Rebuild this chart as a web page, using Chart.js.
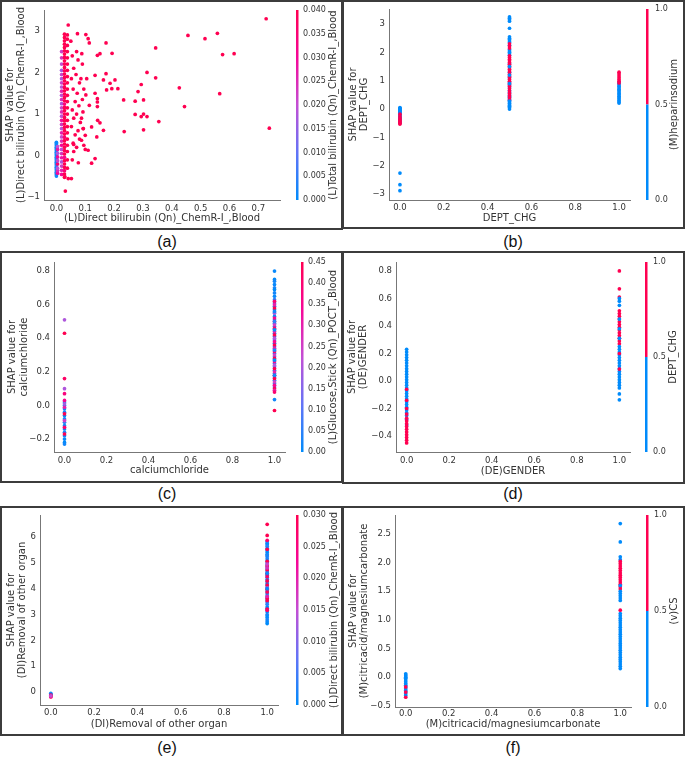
<!DOCTYPE html>
<html><head><meta charset="utf-8">
<script src="https://cdn.jsdelivr.net/npm/chart.js@4"></script>
<style>
body{margin:0;width:685px;height:757px;background:#fff;position:relative;overflow:hidden;}
.box{position:absolute;border:2px solid #3c3c3c;box-sizing:border-box;}
canvas{position:absolute;}
.lbl{position:absolute;font:16px 'Liberation Sans',Arial,sans-serif;color:#111;transform:translate(-50%,-50%);white-space:nowrap;}
</style></head>
<body>
<div class="box" style="left:0;top:0;width:343px;height:230px"></div>
<div class="box" style="left:342px;top:0;width:343px;height:229px"></div>
<div class="box" style="left:0;top:251px;width:343px;height:232px"></div>
<div class="box" style="left:342px;top:251px;width:343px;height:233px"></div>
<div class="box" style="left:0;top:506px;width:343px;height:230px"></div>
<div class="box" style="left:342px;top:506px;width:343px;height:230px"></div>
<canvas id="ca"></canvas><canvas id="cb"></canvas><canvas id="cc"></canvas>
<canvas id="cd"></canvas><canvas id="ce"></canvas><canvas id="cf"></canvas>
<div class="lbl" style="left:167px;top:242px">(a)</div>
<div class="lbl" style="left:513px;top:242px">(b)</div>
<div class="lbl" style="left:167px;top:494px">(c)</div>
<div class="lbl" style="left:513px;top:494px">(d)</div>
<div class="lbl" style="left:167px;top:748px">(e)</div>
<div class="lbl" style="left:513px;top:748px">(f)</div>
<script>
// ---------------- DATA ----------------
// (a) dense columns near x = 0
const aColX = [0.0, 0.004, 0.018, 0.028, 0.038];
const aColY = [
  [-0.49,-0.46,-0.43,-0.40,-0.37,-0.34,-0.31,-0.28,-0.25,-0.22,-0.19,-0.16,-0.13,-0.10,-0.07,-0.04,-0.01,0.02,0.05,0.08,0.11,0.14,0.17,0.20,0.23,0.26,0.29,0.32],
  [-0.42,-0.36,-0.30,-0.20,-0.12,-0.03,0.06,0.15,0.22],
  [-0.45,-0.35,-0.25,-0.15,-0.05,0.05,0.15,0.25,0.35,0.45,0.55,0.65,0.75,0.85,0.95,1.05,1.15,1.25,1.35,1.45,1.55,1.65,1.75,1.85,1.95,2.05,2.20,2.35,2.50],
  [-0.52,-0.44,-0.36,-0.28,-0.20,-0.12,-0.04,0.04,0.12,0.20,0.28,0.36,0.44,0.52,0.60,0.68,0.76,0.84,0.92,1.00,1.08,1.16,1.24,1.32,1.40,1.48,1.56,1.64,1.72,1.80,1.88,1.96,2.04,2.12,2.20,2.28,2.36,2.44,2.52,2.60,2.68,2.76,2.84,2.92],
  [-0.30,-0.10,0.10,0.25,0.40,0.55,0.70,0.85,1.00,1.15,1.30,1.45,1.60,1.75,1.90,2.05,2.20,2.35,2.50,2.65,2.80,2.90]
];
const aColC = [
  [0.001,0.003,0,0.002,0.004,0.001,0.003,0,0.002,0.005,0.001,0.003,0,0.002,0.004,0.001,0.003,0,0.002,0.001,0.003,0,0.002,0.001,0.003,0,0.002,0.001],
  [0.03,0.025,0.02,0.035,0.022,0.03,0.018,0.028,0.02],
  [0.03,0.026,0.022,0.018,0.028,0.024,0.02,0.03,0.025,0.021,0.027,0.019,0.023,0.029,0.02,0.025,0.022,0.018,0.024,0.02,0.026,0.019,0.022,0.018,0.021,0.017,0.02,0.024,0.022],
  [0.04,0.04,0.035,0.04,0.04,0.04,0.032,0.04,0.04,0.04,0.04,0.04,0.036,0.04,0.04,0.04,0.04,0.04,0.04,0.04,0.04,0.04,0.034,0.04,0.04,0.04,0.04,0.04,0.04,0.04,0.04,0.04,0.04,0.04,0.04,0.04,0.04,0.04,0.04,0.04,0.04,0.04,0.04,0.04],
  [0.04,0.04,0.04,0.04,0.04,0.04,0.04,0.04,0.04,0.04,0.04,0.04,0.04,0.04,0.04,0.04,0.04,0.04,0.04,0.04,0.04,0.04]
];
// (a) scattered points [x, y, colour value]
const aScatter = [
  [0.041,3.14,0.04],[0.031,-0.85,0.04],[0.029,-0.50,0.04],[0.041,-0.55,0.04],[0.052,-0.55,0.04],
  [0.050,2.75,0.04],[0.055,2.40,0.04],[0.060,2.10,0.04],[0.052,1.85,0.04],[0.058,1.60,0.04],
  [0.065,1.30,0.04],[0.055,1.10,0.04],[0.060,0.90,0.04],[0.052,0.70,0.04],[0.065,0.50,0.04],
  [0.058,0.30,0.04],[0.060,0.10,0.04],[0.055,-0.10,0.04],[0.070,2.50,0.04],[0.075,2.30,0.04],
  [0.073,2.93,0.04],[0.068,1.95,0.04],[0.080,1.75,0.04],[0.072,1.50,0.04],[0.078,1.20,0.04],
  [0.070,1.00,0.04],[0.083,0.80,0.04],[0.075,0.60,0.04],[0.080,0.40,0.04],[0.070,0.20,0.04],
  [0.076,-0.17,0.04],[0.088,2.45,0.04],[0.090,2.20,0.04],[0.085,1.85,0.04],[0.095,1.60,0.04],
  [0.090,1.35,0.04],[0.092,1.05,0.04],[0.087,0.90,0.04],[0.093,0.65,0.04],[0.100,0.49,0.04],
  [0.087,0.37,0.04],[0.060,0.27,0.04],[0.095,0.25,0.04],[0.102,2.91,0.04],[0.110,2.81,0.04],
  [0.114,2.71,0.04],[0.102,1.46,0.04],[0.114,1.21,0.04],[0.105,1.85,0.04],[0.100,0.15,0.04],
  [0.727,3.29,0.04],[0.558,2.94,0.04],[0.515,2.81,0.04],[0.456,2.89,0.04],[0.344,2.59,0.04],
  [0.576,2.43,0.04],[0.616,2.45,0.04],[0.193,2.46,0.04],[0.151,2.45,0.04],[0.142,2.41,0.04],
  [0.172,2.71,0.04],[0.314,2.00,0.04],[0.344,1.87,0.04],[0.172,1.97,0.04],[0.203,1.82,0.04],
  [0.163,1.82,0.04],[0.134,1.93,0.04],[0.186,1.74,0.04],[0.192,1.61,0.04],[0.213,1.61,0.04],
  [0.174,1.58,0.04],[0.294,1.71,0.04],[0.283,1.54,0.04],[0.426,1.63,0.04],[0.566,1.49,0.04],
  [0.233,1.34,0.04],[0.273,1.31,0.04],[0.302,1.34,0.04],[0.444,1.18,0.04],[0.142,1.37,0.04],
  [0.142,1.29,0.04],[0.142,1.18,0.04],[0.134,1.50,0.04],[0.273,0.99,0.04],[0.302,1.00,0.04],
  [0.294,0.94,0.04],[0.314,0.94,0.04],[0.143,0.85,0.04],[0.151,0.79,0.04],[0.163,0.61,0.04],
  [0.122,0.69,0.04],[0.355,0.82,0.04],[0.302,0.62,0.04],[0.235,0.58,0.04],[0.738,0.66,0.04],
  [0.140,0.45,0.04],[0.110,0.13,0.04],[0.122,-0.18,0.04],[0.134,-0.07,0.04],[0.093,0.65,0.04]
];
const aXTicks = [0,0.1,0.2,0.3,0.4,0.5,0.6,0.7];
const aYTicks = [-1,0,1,2,3];
const aCTicks = [0,0.005,0.01,0.015,0.02,0.025,0.03,0.035,0.04];

// (b)
const bColX = [0.0, 0.5, 1.0];
const bColY = [
  [0.05,0.03,0.01,-0.02,-0.04,-0.07,-0.10,-0.12,-0.15,-0.18,-0.21,-0.24,-0.27,-0.30,-0.33,-0.36,-0.39,-0.42,-0.45,-0.49,-0.18,-0.27,-0.33,-0.38,-0.42,-0.46,-0.50,-0.53,-2.26,-2.67,-2.88],
  [3.25,3.20,3.15,3.10,2.85,2.55,2.50,2.45,2.40,2.35,2.25,2.10,2.05,2.00,1.95,1.90,1.60,1.30,1.10,0.95,0.85,0.75,0.65,0.58,0.50,0.45,0.40,0.35,0.30,0.25,0.20,0.15,0.10,0.05,0.00,
   2.30,2.22,2.15,1.88,1.82,1.76,1.70,1.64,1.58,1.52,1.46,1.40,1.34,1.28,1.22,1.16,1.10,1.04,0.98,0.92,0.86,0.80,0.72,0.64,0.56,0.48,0.40,0.32,1.50,1.20,0.90,0.28,0.12],
  [0.95,0.90,0.85,0.80,0.75,0.70,0.65,0.60,0.55,0.50,0.45,0.40,0.35,0.30,0.25,0.21,1.30,1.24,1.17,1.10,1.04,0.98,0.92]
];
const bColC = [
  [0,0,0,0,0,0,0,0,0,0,0,0,0,0,0,0,0,0,0,0,1,1,1,1,1,1,1,1,0,0,0],
  [0,0,0,0,0,0,0,0,0,0,0,0,0,0,0,0,0,0,0,0,0,0,0,0,0,0,0,0,0,0,0,0,0,0,0,
   1,1,1,1,1,1,1,1,1,1,1,1,1,1,1,1,1,1,1,1,1,1,1,1,1,1,1,1,0,0,0,0,0],
  [0,0,0,0,0,0,0,0,0,0,0,0,0,0,0,0,1,1,1,1,1,1,1]
];
const bXTicks = [0,0.2,0.4,0.6,0.8,1.0];
const bYTicks = [-3,-2,-1,0,1,2,3];
const bCTicks = [0,0.5,1];

// (c)
const cColX = [0.0, 1.0];
const cColY = [
  [0.02,0.00,-0.02,-0.04,-0.06,-0.08,-0.10,-0.12,-0.14,-0.16,-0.18,-0.20,-0.22,-0.23,0.51,0.43,0.16,0.10,0.07,0.03,-0.01,-0.05,-0.09,-0.13,-0.17,0.01],
  [0.80,0.75,0.74,0.72,0.70,0.69,0.67,0.65,0.63,0.61,0.59,0.57,0.55,0.53,0.51,0.49,0.47,0.45,0.43,0.41,0.39,0.37,0.35,0.33,0.31,0.29,0.27,0.25,0.23,0.21,0.19,0.17,0.15,0.13,0.11,0.035,
   0.62,0.60,0.58,0.55,0.52,0.50,0.48,0.46,0.44,0.42,0.40,0.38,0.36,0.34,0.32,0.30,0.28,0.26,0.24,0.22,0.20,0.18,0.16,0.14,0.12,0.10,0.09,0.08,-0.03,
   0.56,0.45,0.33,0.27,0.18,0.50]
];
const cColC = [
  [0.00,0.02,0.01,0.03,0.00,0.02,0.04,0.01,0.00,0.03,0.02,0.01,0.00,0.02,0.20,0.45,0.42,0.20,0.38,0.35,0.30,0.45,0.25,0.40,0.45,0.18],
  [0.01,0.00,0.02,0.01,0.03,0.00,0.02,0.01,0.04,0.00,0.02,0.01,0.03,0.00,0.02,0.05,0.01,0.00,0.02,0.03,0.01,0.00,0.04,0.02,0.01,0.00,0.03,0.02,0.01,0.00,0.02,0.04,0.01,0.00,0.03,0.02,
   0.40,0.30,0.45,0.20,0.35,0.45,0.25,0.40,0.30,0.45,0.20,0.35,0.45,0.30,0.40,0.25,0.45,0.35,0.20,0.45,0.30,0.40,0.45,0.25,0.35,0.45,0.30,0.40,0.45,
   0.02,0.01,0.03,0.00,0.02,0.05]
];
const cXTicks = [0,0.2,0.4,0.6,0.8,1.0];
const cYTicks = [-0.2,0,0.2,0.4,0.6,0.8];
const cCTicks = [0,0.05,0.1,0.15,0.2,0.25,0.3,0.35,0.4,0.45];

// (d)
const dColX = [0.0, 1.0];
const dColY = [
  [0.23,0.21,0.19,0.17,0.15,0.13,0.11,0.09,0.07,0.05,0.03,0.01,-0.01,-0.03,-0.05,-0.07,-0.09,-0.11,-0.13,-0.15,-0.17,-0.19,-0.21,-0.23,-0.25,-0.28,-0.32,
   -0.06,-0.14,-0.20,-0.24,-0.27,-0.29,-0.31,-0.33,-0.35,-0.37,-0.39,-0.41,-0.43,-0.45],
  [0.80,0.67,0.61,0.51,0.49,0.47,0.45,0.43,0.41,0.39,0.37,0.35,0.33,0.31,0.29,0.27,
   0.60,0.58,0.55,0.45,0.38,0.31,0.25,0.23,0.21,0.19,0.17,0.15,0.13,0.11,0.09,0.07,0.05,0.03,0.01,-0.01,-0.03,-0.05,-0.094,-0.137,
   0.20,0.087]
];
const dColC = [
  [0,0,0,0,0,0,0,0,0,0,0,0,0,0,0,0,0,0,0,0,0,0,0,0,0,0,0,
   1,1,1,1,1,1,1,1,1,1,1,1,1,1],
  [1,1,1,1,1,1,1,1,1,1,1,1,1,1,1,1,
   0,0,0,0,0,0,0,0,0,0,0,0,0,0,0,0,0,0,0,0,0,0,0,0,
   1,1]
];
const dXTicks = [0,0.2,0.4,0.6,0.8,1.0];
const dYTicks = [-0.4,-0.2,0,0.2,0.4,0.6,0.8];
const dCTicks = [0,0.5,1];

// (e)
const eColX = [0.0, 1.0];
const eColY = [
  [-0.05,-0.08,-0.11,-0.14,-0.12,-0.17,-0.19,-0.15],
  [5.82,5.76,5.70,5.64,5.56,5.48,5.40,5.32,5.24,5.16,5.08,5.00,4.92,4.84,4.76,4.68,4.60,4.52,4.44,4.36,4.28,4.20,4.12,4.04,3.96,3.88,3.80,3.72,3.64,3.56,3.48,3.30,3.24,3.18,3.10,3.00,2.95,2.88,2.80,2.72,2.65,
   6.49,6.06,5.87,5.52,5.06,4.88,4.72,4.57,4.46,4.30,4.14,3.98,3.87,3.62,3.53,3.21,3.16,
   4.80,4.02,3.70,4.95,
   5.30,4.60,4.00,3.40]
];
const eColC = [
  [0.001,0.002,0.000,0.001,0.030,0.030,0.028,0.015],
  [0.001,0.002,0.000,0.003,0.001,0.002,0.000,0.001,0.003,0.002,0.000,0.001,0.002,0.004,0.000,0.001,0.002,0.000,0.003,0.001,0.002,0.000,0.001,0.002,0.000,0.003,0.001,0.002,0.000,0.001,0.002,0.000,0.001,0.003,0.000,0.002,0.001,0.000,0.002,0.001,0.000,
   0.030,0.030,0.027,0.030,0.030,0.029,0.030,0.030,0.028,0.030,0.030,0.030,0.029,0.030,0.030,0.030,0.028,
   0.018,0.015,0.020,0.016,
   0.002,0.001,0.000,0.003]
];
const eXTicks = [0,0.2,0.4,0.6,0.8,1.0];
const eYTicks = [0,1,2,3,4,5,6];
const eCTicks = [0,0.005,0.01,0.015,0.02,0.025,0.03];

// (f)
const fColX = [0.0, 1.0];
const fColY = [
  [0.06,0.04,0.02,0.00,-0.02,-0.05,-0.08,-0.11,-0.14,-0.17,-0.20,-0.23,-0.26,-0.29,-0.32,-0.17,-0.26,-0.35],
  [1.11,1.07,1.03,0.99,0.95,0.91,0.87,0.83,0.79,0.75,0.71,0.67,0.63,0.59,0.55,0.51,0.47,0.43,0.39,0.35,0.31,0.27,0.23,0.19,0.15,
   2.68,2.36,2.10,2.05,
   2.02,1.98,1.94,1.90,1.86,1.82,1.78,1.74,1.70,1.66,1.62,1.58,1.54,1.17,
   1.60,1.50,1.46,1.42,1.38,1.34]
];
const fColC = [
  [0,0,0,0,0,0,0,0,0,0,0,0,0,0,0,1,1,1],
  [0,0,0,0,0,0,0,0,0,0,0,0,0,0,0,0,0,0,0,0,0,0,0,0,0,
   0,0,0,0,
   1,1,1,1,1,1,1,1,1,1,1,1,1,1,
   0,0,0,0,0,0]
];
const fXTicks = [0,0.2,0.4,0.6,0.8,1.0];
const fYTicks = [-0.5,0,0.5,1,1.5,2,2.5];
const fCTicks = [0,0.5,1];

// ---------------- RENDERING ----------------
Chart.defaults.font.family = "'DejaVu Sans', sans-serif";
const BLUE = 'rgb(0,139,251)', RED = 'rgb(255,0,81)';
const STOPS = [[0,[0,139,251]],[0.25,[99,116,247]],[0.5,[195,79,212]],[0.75,[246,7,152]],[1,[255,0,81]]];
function cmap(t){
  t = Math.max(0, Math.min(1, t));
  for (let i = 1; i < STOPS.length; i++) {
    if (t <= STOPS[i][0]) {
      const [t0,c0] = STOPS[i-1], [t1,c1] = STOPS[i];
      const f = (t - t0) / (t1 - t0);
      const c = c0.map((v,k)=>Math.round(v + (c1[k]-v)*f));
      return `rgb(${c[0]},${c[1]},${c[2]})`;
    }
  }
  return RED;
}
function fmt(v, d){ const s = Number(v).toFixed(d); return s.replace('-', '\u2212'); }

function build(p){
  const cv = document.getElementById(p.id);
  cv.style.left = p.box.x + 'px'; cv.style.top = p.box.y + 'px';
  cv.width = p.box.w; cv.height = p.box.h;
  const A = p.area;
  const padTop = A.t - p.box.y;
  const yW = A.l - p.box.x;
  const xH = p.box.y + p.box.h - A.b;
  const y2W = p.box.x + p.box.w - A.r;
  const TF = {size: 10, lineHeight: 1.15};
  const KF = {size: 8.5, lineHeight: 1.2};
  const CF = {size: 8, lineHeight: 1.2};
  const TXT = '#333', SPINE = '#777';
  const pts = [], cols = [];
  const colour = v => p.binary ? (v >= 0.5 ? RED : BLUE) : cmap((v - p.cRange[0]) / (p.cRange[1] - p.cRange[0]));
  p.colX.forEach((xv, i) => {
    p.colY[i].forEach((yv, j) => { pts.push({x: xv, y: yv}); cols.push(colour(p.colC[i][j])); });
  });
  (p.scatter || []).forEach(s => { pts.push({x: s[0], y: s[1]}); cols.push(colour(s[2])); });
  const cb = {
    id: 'cbar_' + p.id,
    afterDraw(chart){
      const ctx = chart.ctx, ca = chart.chartArea;
      const x0 = p.cbX - p.box.x, top = ca.top, bot = ca.bottom, w = 2.5;
      if (p.binary) {
        ctx.fillStyle = RED; ctx.fillRect(x0, top, w, (bot - top) / 2);
        ctx.fillStyle = BLUE; ctx.fillRect(x0, (top + bot) / 2, w, (bot - top) / 2);
      } else {
        const g = ctx.createLinearGradient(0, bot, 0, top);
        STOPS.forEach(s => g.addColorStop(s[0], `rgb(${s[1][0]},${s[1][1]},${s[1][2]})`));
        ctx.fillStyle = g; ctx.fillRect(x0, top, w, bot - top);
      }
      ctx.save();
      ctx.translate(p.cbTitleX - p.box.x, (top + bot) / 2);
      ctx.rotate(-Math.PI / 2);
      ctx.font = "10px 'DejaVu Sans', sans-serif";
      ctx.fillStyle = TXT; ctx.textAlign = 'center'; ctx.textBaseline = 'middle';
      ctx.fillText(p.cLabel, 0, 0);
      ctx.restore();
    }
  };
  new Chart(cv, {
    type: 'scatter',
    data: {datasets: [{data: pts, backgroundColor: cols, pointRadius: 1.85, pointBorderWidth: 0, pointHoverRadius: 1.85}]},
    options: {
      responsive: false, animation: false, devicePixelRatio: 1, events: [],
      layout: {padding: {top: padTop, left: 0, right: 0, bottom: 0}},
      plugins: {legend: {display: false}, tooltip: {enabled: false}},
      scales: {
        x: {
          type: 'linear', position: 'bottom', min: p.xRange[0], max: p.xRange[1],
          grid: {display: false, drawTicks: false}, border: {display: true, color: SPINE, width: 1},
          afterBuildTicks: s => { s.ticks = p.xTicks.map(v => ({value: v})); },
          ticks: {font: KF, color: TXT, padding: p.xTickPad, maxRotation: 0, autoSkip: false, callback: v => fmt(v, p.xDec)},
          title: {display: true, text: p.xLabel, font: TF, color: TXT, padding: {top: 0, bottom: p.xTitlePad}},
          afterFit: s => { s.height = xH; s.paddingLeft = 0; s.paddingRight = 0; }
        },
        y: {
          type: 'linear', position: 'left', min: p.yRange[0], max: p.yRange[1],
          grid: {display: false, drawTicks: false}, border: {display: true, color: SPINE, width: 1},
          afterBuildTicks: s => { s.ticks = p.yTicks.map(v => ({value: v})); },
          ticks: {font: KF, color: TXT, padding: 4, autoSkip: false, callback: v => fmt(v, p.yDec)},
          title: {display: true, text: p.yLabel, font: TF, color: TXT, padding: {top: p.yTitlePad, bottom: 0}},
          afterFit: s => { s.width = yW; s.paddingTop = 0; s.paddingBottom = 0; }
        },
        y2: {
          type: 'linear', position: 'right', min: p.cRange[0], max: p.cRange[1],
          grid: {display: false, drawTicks: false}, border: {display: false},
          afterBuildTicks: s => { s.ticks = p.cTicks.map(v => ({value: v})); },
          ticks: {font: CF, color: TXT, padding: p.cbLabelX - A.r, autoSkip: false, callback: v => fmt(v, p.cDec)},
          afterFit: s => { s.width = y2W; s.paddingTop = 0; s.paddingBottom = 0; }
        }
      }
    },
    plugins: [cb]
  });
}

const LT = 0, RT = 343;
build({id:'ca', box:{x:LT,y:0,w:342,h:229}, area:{l:44,t:10,r:280,b:200},
  xRange:[-0.043,0.775], yRange:[-1.065,3.5], cRange:[0,0.04], binary:false,
  colX:aColX, colY:aColY, colC:aColC, scatter:aScatter,
  xTicks:aXTicks, yTicks:aYTicks, cTicks:aCTicks, xDec:1, yDec:0, cDec:3,
  xLabel:'(L)Direct bilirubin (Qn)_ChemR-I_,Blood', yLabel:['SHAP value for','(L)Direct bilirubin (Qn)_ChemR-I_,Blood'],
  cLabel:'(L)Total bilirubin (Qn)_ChemR-I_,Blood',
  cbX:296, cbLabelX:303, cbTitleX:333, xTickPad:3.9, xTitlePad:5.25, yTitlePad:4.25});
build({id:'cb', box:{x:RT,y:0,w:342,h:229}, area:{l:389,t:9,r:630,b:200},
  xRange:[-0.05,1.05], yRange:[-3.21,3.53], cRange:[0,1], binary:true,
  colX:bColX, colY:bColY, colC:bColC,
  xTicks:bXTicks, yTicks:bYTicks, cTicks:bCTicks, xDec:1, yDec:0, cDec:1,
  xLabel:'DEPT_CHG', yLabel:['SHAP value for','DEPT_CHG'], cLabel:'(M)heparinsodium',
  cbX:646, cbLabelX:655, cbTitleX:674, xTickPad:3, xTitlePad:5.25, yTitlePad:4.25});
build({id:'cc', box:{x:LT,y:251,w:342,h:232}, area:{l:54,t:262,r:285,b:452},
  xRange:[-0.05,1.05], yRange:[-0.277,0.854], cRange:[0,0.45], binary:false,
  colX:cColX, colY:cColY, colC:cColC,
  xTicks:cXTicks, yTicks:cYTicks, cTicks:cCTicks, xDec:1, yDec:1, cDec:2,
  xLabel:'calciumchloride', yLabel:['SHAP value for','calciumchloride'], cLabel:'(L)Glucose,Stick (Qn)_POCT_,Blood',
  cbX:301, cbLabelX:308, cbTitleX:333, xTickPad:3.9, xTitlePad:7.25, yTitlePad:7});
build({id:'cd', box:{x:RT,y:251,w:342,h:232}, area:{l:396,t:262,r:630,b:452},
  xRange:[-0.05,1.05], yRange:[-0.516,0.865], cRange:[0,1], binary:true,
  colX:dColX, colY:dColY, colC:dColC,
  xTicks:dXTicks, yTicks:dYTicks, cTicks:dCTicks, xDec:1, yDec:1, cDec:1,
  xLabel:'(DE)GENDER', yLabel:['SHAP value for','(DE)GENDER'], cLabel:'DEPT_CHG',
  cbX:645, cbLabelX:653, cbTitleX:673, xTickPad:3.9, xTitlePad:6.25, yTitlePad:3.5});
build({id:'ce', box:{x:LT,y:506,w:342,h:230}, area:{l:40,t:515,r:278,b:705},
  xRange:[-0.05,1.05], yRange:[-0.503,6.85], cRange:[0,0.03], binary:false,
  colX:eColX, colY:eColY, colC:eColC,
  xTicks:eXTicks, yTicks:eYTicks, cTicks:eCTicks, xDec:1, yDec:0, cDec:3,
  xLabel:'(DI)Removal of other organ', yLabel:['SHAP value for','(DI)Removal of other organ'],
  cLabel:'(L)Direct bilirubin (Qn)_ChemR-I_,Blood',
  cbX:296, cbLabelX:303, cbTitleX:334, xTickPad:3, xTitlePad:6.25, yTitlePad:5.25});
build({id:'cf', box:{x:RT,y:506,w:342,h:230}, area:{l:395,t:515,r:631,b:707},
  xRange:[-0.05,1.05], yRange:[-0.52,2.83], cRange:[0,1], binary:true,
  colX:fColX, colY:fColY, colC:fColC,
  xTicks:fXTicks, yTicks:fYTicks, cTicks:fCTicks, xDec:1, yDec:1, cDec:1,
  xLabel:'(M)citricacid/magnesiumcarbonate', yLabel:['SHAP value for','(M)citricacid/magnesiumcarbonate'], cLabel:'(v)CS',
  cbX:646, cbLabelX:654, cbTitleX:674, xTickPad:2, xTitlePad:6.25, yTitlePad:4.25});
</script>
</body></html>
